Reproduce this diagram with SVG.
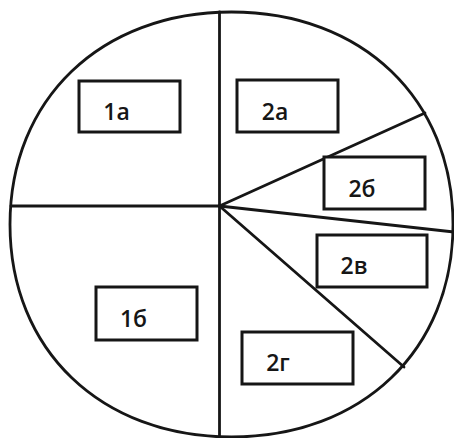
<svg xmlns="http://www.w3.org/2000/svg" width="454" height="438" viewBox="0 0 454 438">
<style>
.ln{fill:none;stroke:#161616;stroke-width:2.8;stroke-linecap:round}
.bx{fill:#fff;stroke:#161616;stroke-width:3}
.tx{font-family:"Open Sans","Liberation Sans",Arial,sans-serif;font-size:23px;font-weight:600;fill:#161616;text-anchor:middle}
</style>
<rect width="454" height="438" fill="#fff"/>
<g id="circle">
<path class="ln" d="M10,224.5 C10,99.1 100.8,12 231.5,12 C362.2,12 453,99.1 453,224.5 C453,349.9 362.2,437 231.5,437 C100.8,437 10,349.9 10,224.5 Z"/>
</g>
<g id="connectors">
<line class="ln" x1="219.5" y1="12" x2="219.5" y2="437"/>
<line class="ln" x1="11" y1="206" x2="219.5" y2="206"/>
<line class="ln" x1="219.5" y1="206" x2="425" y2="113"/>
<line class="ln" x1="219.5" y1="206" x2="454" y2="232"/>
<line class="ln" x1="219.5" y1="206" x2="404" y2="367"/>
</g>
<g id="n1a"><rect class="bx" x="79" y="81" width="101" height="51"/><text class="tx" x="116.5" y="120">1а</text></g>
<g id="n2a"><rect class="bx" x="237" y="80" width="101" height="52"/><text class="tx" x="275" y="120">2а</text></g>
<g id="n2b"><rect class="bx" x="324" y="157" width="101" height="52"/><text class="tx" x="362" y="197">2б</text></g>
<g id="n2v"><rect class="bx" x="317" y="235" width="110" height="52"/><text class="tx" x="354" y="274">2в</text></g>
<g id="n1b"><rect class="bx" x="96" y="287" width="101" height="53"/><text class="tx" x="133.5" y="327">1б</text></g>
<g id="n2g"><rect class="bx" x="242" y="332" width="111" height="52"/><text class="tx" x="278" y="371">2г</text></g>
</svg>
